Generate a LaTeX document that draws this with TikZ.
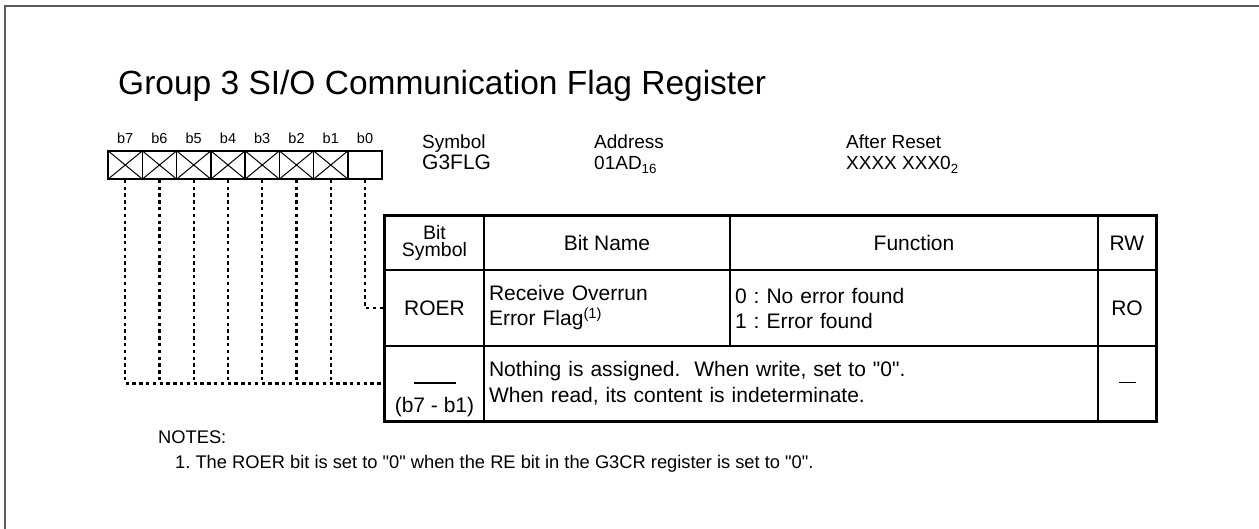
\documentclass[tikz,border=0pt]{standalone}
\usepackage{fontspec}
\setmainfont{Liberation Sans}[Ligatures=TeXOff]
\usetikzlibrary{positioning}
\definecolor{frgray}{HTML}{5A5A5A}
\frenchspacing

\begin{document}
\begin{tikzpicture}[x=1pt, y=-1pt,
    bit/.style={draw, line width=1.5pt, minimum width=34.25pt, minimum height=28pt, inner sep=0},
    cell/.style={draw, line width=1.3pt, inner sep=0, font=\fontsize{21}{25}\selectfont},
    lcell/.style={cell, inner xsep=5pt, align=left},
    lead/.style={line width=2.2pt, dash pattern=on 3.4pt off 3.4pt},
    hd/.style={inner sep=0, anchor=base west, font=\fontsize{19}{22}\selectfont}]
  \useasboundingbox (0,0) rectangle (1259,529);
  \draw[frgray, line width=2pt] (5,529) |- (1259,6);
  \node[anchor=base west, inner sep=0, font=\fontsize{33.5}{38}\selectfont] (title) at (118,95) {Group 3 SI/O Communication Flag Register};

  % bit boxes
  \foreach \i in {0,...,7} {
    \node[bit] (c\i) at (365-\i*34.25,165) {};
    \node[font=\fontsize{14.5}{16}\selectfont, inner sep=0, above=6pt of c\i] (l\i) {b\i};
  }
  \foreach \i in {1,...,7} \draw[line width=1pt] (c\i.north west) -- (c\i.south east) (c\i.south west) -- (c\i.north east);

  % symbol, address, reset value
  \node[hd] (symh) at (422,149) {Symbol};
  \node[hd, font=\fontsize{21}{24}\selectfont] (symv) at (422,170) {G3FLG};
  \node[hd] (adrh) at (594,149) {Address};
  \node[hd] (adrv) at (594,170) {01AD\textsubscript{16}};
  \node[hd] (rsth) at (846,149) {After Reset};
  \node[hd] (rstv) at (846,170) {XXXX XXX0\textsubscript{2}};

  % table
  \node[cell, minimum width=99pt, minimum height=54pt, align=center, font=\fontsize{19.5}{17}\selectfont] (hs) at (434.5,243) {Bit\\Symbol};
  \node[cell, minimum width=246pt, minimum height=54pt] (hn) at (607,243) {Bit Name};
  \node[cell, minimum width=368pt, minimum height=54pt] (hf) at (914,243) {Function};
  \node[cell, minimum width=58pt, minimum height=54pt] (hr) at (1127,243) {RW};
  \node[cell, minimum width=99pt, minimum height=76pt] (rs) at (434.5,308) {ROER};
  \node[lcell, text width=236pt, minimum height=76pt] (rn) at (607,308) {Receive Overrun\\Error Flag\textsuperscript{(1)}};
  \node[lcell, text width=358pt, minimum height=76pt] (rf) at (914,308) {0 : No error found\\1 : Error found};
  \node[cell, minimum width=58pt, minimum height=76pt] (rr) at (1127,308) {RO};
  \node[cell, minimum width=99pt, minimum height=75pt] (ns) at (434.5,383.5) {};
  \node[lcell, text width=604pt, minimum height=75pt, font=\fontsize{21}{26}\selectfont] (nd) at (791,383.5) {Nothing is assigned.\ \ When write, set to "0".\\When read, its content is indeterminate.};
  \node[cell, minimum width=58pt, minimum height=75pt] (nr) at (1127,383.5) {\rule[3pt]{17pt}{1pt}};
  \node[inner sep=0] (nbar) at (434.5,383) {\rule{42pt}{1.2pt}};
  \node[inner sep=0, font=\fontsize{21}{25}\selectfont] (nbit) at (434.5,407) {(b7 - b1)};
  \draw[line width=2.2pt] (hs.north west) rectangle (nr.south east);

  % leads from bits to table
  \draw[lead] (c0.south) |- (rs.west);
  \draw[lead] (c7.south) |- (ns.west);
  \foreach \i in {1,...,6} \draw[lead] (c\i.south) -- (c\i.south |- ns.west);

  % notes
  \node[anchor=west, inner sep=0, font=\fontsize{18.3}{21}\selectfont] (notes) at (158,437) {NOTES:};
  \node[anchor=west, inner sep=0, font=\fontsize{18.3}{21}\selectfont] (note1) at (175,464) {1. The ROER bit is set to "0" when the RE bit in the G3CR register is set to "0".};
\end{tikzpicture}
\end{document}
